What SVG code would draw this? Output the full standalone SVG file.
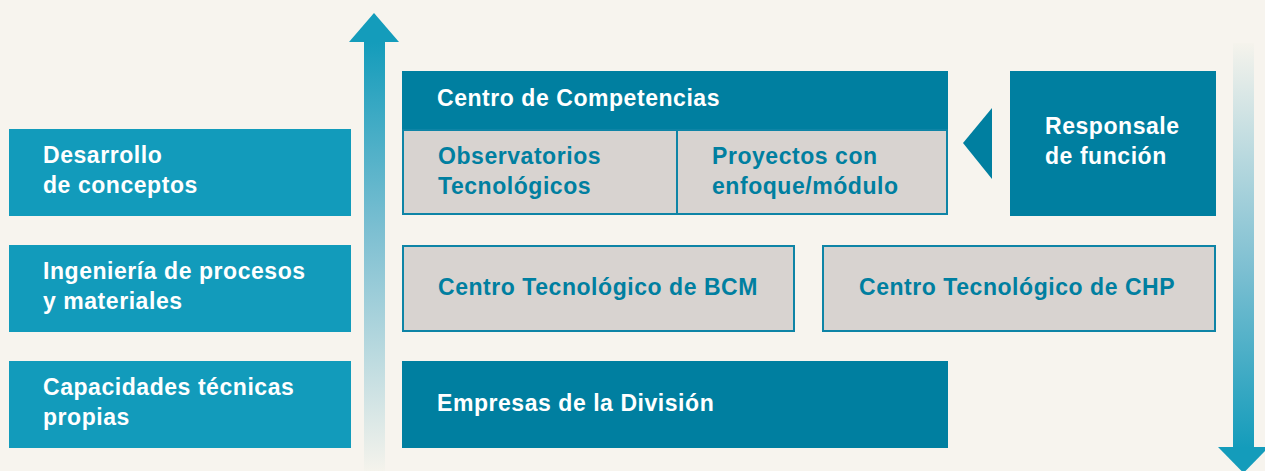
<svg xmlns="http://www.w3.org/2000/svg" width="1265" height="471" viewBox="0 0 1265 471">
<defs>
<linearGradient id="gUp" x1="0" y1="42" x2="0" y2="471" gradientUnits="userSpaceOnUse">
<stop offset="0" stop-color="#149cbb"/>
<stop offset="0.45" stop-color="#7fc0d2"/>
<stop offset="1" stop-color="#f5f3ec"/>
</linearGradient>
<linearGradient id="gDown" x1="0" y1="43" x2="0" y2="448" gradientUnits="userSpaceOnUse">
<stop offset="0" stop-color="#f5f3ec"/>
<stop offset="0.55" stop-color="#7fc0d2"/>
<stop offset="1" stop-color="#149cbb"/>
</linearGradient>
<style>
.lb{fill:#129bbb}
.dk{fill:#007fa0}
.gr{fill:#d8d3d0;stroke:#0e84a6;stroke-width:2}
text{font-family:"Liberation Sans",Arial,sans-serif;font-weight:bold;font-size:23px;letter-spacing:0.55px}
.w{fill:#ffffff}
.t{fill:#007fa0}
</style>
</defs>
<rect width="1265" height="471" fill="#f7f4ee"/>
<g id="connectors">
<rect x="364" y="42" width="21" height="429" fill="url(#gUp)"/>
<polygon points="374,13 399,42 349,42" fill="#149cbb"/>
<rect x="1233" y="43" width="21" height="405" fill="url(#gDown)"/>
<polygon points="1218,447 1269,447 1243.5,473" fill="#149cbb"/>
<polygon points="963,143 992,108 992,179" fill="#007fa0"/>
</g>
<g id="n-desarrollo">
<rect class="lb" x="9" y="129" width="342" height="87"/>
<text class="w" x="43" y="163">Desarrollo</text>
<text class="w" x="43" y="193">de conceptos</text>
</g>
<g id="n-ingenieria">
<rect class="lb" x="9" y="245" width="342" height="87"/>
<text class="w" x="43" y="279">Ingeniería de procesos</text>
<text class="w" x="43" y="309">y materiales</text>
</g>
<g id="n-capacidades">
<rect class="lb" x="9" y="361" width="342" height="87"/>
<text class="w" x="43" y="395">Capacidades técnicas</text>
<text class="w" x="43" y="425">propias</text>
</g>
<g id="n-centro-competencias">
<rect class="dk" x="402" y="71" width="546" height="58"/>
<text class="w" x="437" y="106">Centro de Competencias</text>
</g>
<g id="n-observatorios">
<rect class="gr" x="403" y="130" width="274" height="84"/>
<text class="t" x="438" y="164">Observatorios</text>
<text class="t" x="438" y="194">Tecnológicos</text>
</g>
<g id="n-proyectos">
<rect class="gr" x="677" y="130" width="270" height="84"/>
<text class="t" x="712" y="164">Proyectos con</text>
<text class="t" x="712" y="194">enfoque/módulo</text>
</g>
<g id="n-responsale">
<rect class="dk" x="1010" y="71" width="206" height="145"/>
<text class="w" x="1045" y="134">Responsale</text>
<text class="w" x="1045" y="164">de función</text>
</g>
<g id="n-bcm">
<rect class="gr" x="403" y="246" width="391" height="85"/>
<text class="t" x="438" y="295">Centro Tecnológico de BCM</text>
</g>
<g id="n-chp">
<rect class="gr" x="823" y="246" width="392" height="85"/>
<text class="t" x="859" y="295">Centro Tecnológico de CHP</text>
</g>
<g id="n-empresas">
<rect class="dk" x="402" y="361" width="546" height="87"/>
<text class="w" x="437" y="411">Empresas de la División</text>
</g>
</svg>
